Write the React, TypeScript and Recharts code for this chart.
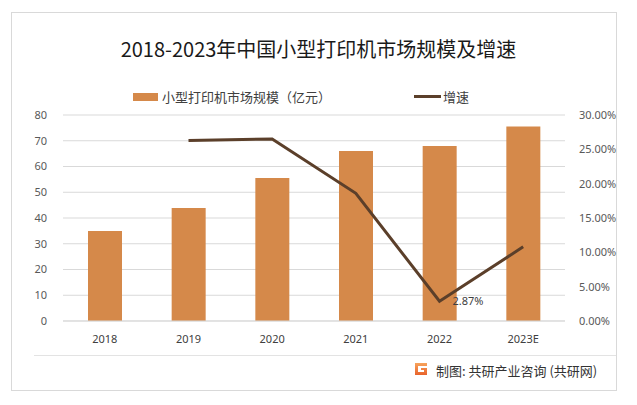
import type { FC } from "react";
import {
  ComposedChart,
  Bar,
  Line,
  XAxis,
  YAxis,
  CartesianGrid,
  LabelList,
} from "recharts";

const years = ["2018", "2019", "2020", "2021", "2022", "2023E"];
const marketSize = [35, 43.9, 55.5, 66, 68, 75.5];
const growthRate = [null, 26.3, 26.5, 18.6, 2.87, 10.8];
const leftTicks = [0, 10, 20, 30, 40, 50, 60, 70, 80];
const rightTicks = [0, 5, 10, 15, 20, 25, 30];

const BAR_COLOR = "#D5894A";
const LINE_COLOR = "#5B3F2A";
const FONT = "'Noto Sans', 'Noto Sans CJK SC', sans-serif";
const CJK = "'Noto Sans CJK SC', 'Noto Sans', sans-serif";

const data = years.map((year, i) => ({
  year,
  size: marketSize[i],
  growth: growthRate[i],
}));

const GrowthLabel = (props: any) => {
  const { x, y, index } = props;
  if (index !== 4) return null;
  return (
    <text
      x={x + 13}
      y={y + 4}
      fontSize={11}
      fill="#404040"
      fontFamily={FONT}
    >
      {`${growthRate[index]!.toFixed(2)}%`}
    </text>
  );
};

const LegendBox: FC = () => (
  <div
    style={{
      display: "flex",
      alignItems: "center",
      fontFamily: CJK,
      fontSize: 13,
      color: "#404040",
    }}
  >
    <span style={{ width: 25, height: 8, background: BAR_COLOR, marginRight: 4 }} />
    <span>小型打印机市场规模（亿元）</span>
    <span
      style={{
        width: 27,
        height: 3,
        background: LINE_COLOR,
        marginLeft: 83,
        marginRight: 2,
      }}
    />
    <span>增速</span>
  </div>
);

const App: FC = () => (
  <div
    style={{
      position: "absolute",
      left: 0,
      top: 0,
      width: 637,
      height: 405,
      background: "#fff",
      overflow: "hidden",
    }}
  >
    <div
      style={{
        position: "absolute",
        left: 11,
        top: 12,
        width: 604,
        height: 377,
        border: "1px solid #d9d9d9",
      }}
    />
    <div
      style={{
        position: "absolute",
        left: 0,
        width: 637,
        top: 34,
        textAlign: "center",
        fontFamily: CJK,
        fontSize: 20,
        color: "#1a1a1a",
      }}
    >
      2018-2023年中国小型打印机市场规模及增速
    </div>
    <div style={{ position: "absolute", left: 133, top: 87 }}>
      <LegendBox />
    </div>
    <div style={{ position: "absolute", left: 0, top: 0 }}>
      <ComposedChart
        width={637}
        height={405}
        data={data}
        margin={{ top: 115, right: 22, bottom: 54, left: 23 }}
      >
        <CartesianGrid vertical={false} stroke="#d9d9d9" yAxisId="left" />
        <XAxis
          dataKey="year"
          axisLine={{ stroke: "#d9d9d9" }}
          tickLine={false}
          tick={{ fontSize: 11, fill: "#404040", fontFamily: FONT }}
          height={30}
          tickMargin={8}
        />
        <YAxis
          yAxisId="left"
          domain={[0, 80]}
          ticks={leftTicks}
          width={40}
          axisLine={false}
          tickLine={false}
          tick={{ fontSize: 11, fill: "#595959", fontFamily: FONT }}
          tickMargin={10}
        />
        <YAxis
          yAxisId="right"
          orientation="right"
          domain={[0, 30]}
          ticks={rightTicks}
          width={50}
          axisLine={false}
          tickLine={false}
          tickFormatter={(v: number) => `${v.toFixed(2)}%`}
          tick={{ fontSize: 11, fill: "#595959", fontFamily: FONT, textAnchor: "start" }}
          tickMargin={8}
        />
        <Bar
          yAxisId="left"
          dataKey="size"
          fill={BAR_COLOR}
          barSize={34}
          isAnimationActive={false}
        />
        <Line
          yAxisId="right"
          dataKey="growth"
          stroke={LINE_COLOR}
          strokeWidth={3}
          dot={false}
          activeDot={false}
          isAnimationActive={false}
        >
          <LabelList dataKey="growth" content={GrowthLabel} />
        </Line>
      </ComposedChart>
    </div>
    <div
      style={{
        position: "absolute",
        left: 34,
        top: 355,
        width: 582,
        height: 1,
        background: "#e3e3e3",
      }}
    />
    <svg
      style={{ position: "absolute", left: 414, top: 362 }}
      width={14}
      height={14}
      viewBox="0 0 14 14"
    >
      <defs>
        <linearGradient id="lg" x1="0" y1="0" x2="0" y2="1">
          <stop offset="0" stopColor="#f7a35c" />
          <stop offset="1" stopColor="#e8632c" />
        </linearGradient>
      </defs>
      <path d="M1 1 H13 V4 H4 V10 H10 V8 H7 V6 H13 V13 H1 Z" fill="url(#lg)" />
    </svg>
    <div
      style={{
        position: "absolute",
        left: 436,
        top: 361,
        fontFamily: CJK,
        fontSize: 13,
        color: "#333",
        whiteSpace: "nowrap",
      }}
    >
      制图: 共研产业咨询 (共研网)
    </div>
  </div>
);

export default App;
